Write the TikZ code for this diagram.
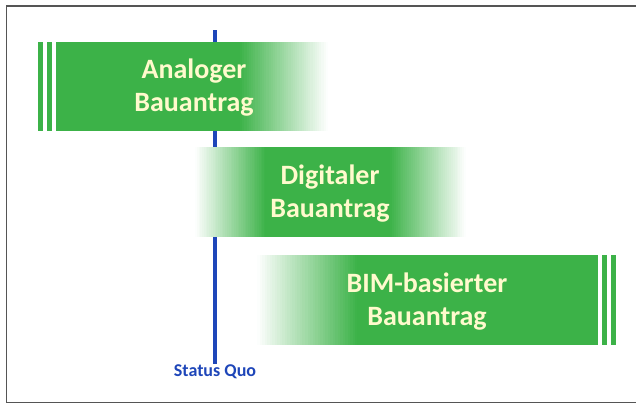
\documentclass[tikz,border=0pt]{standalone}
\usepackage{fontspec}
\setmainfont{Carlito}
\definecolor{bargreen}{RGB}{60,178,72}
\definecolor{bartext}{RGB}{255,250,205}
\definecolor{sqblue}{RGB}{30,70,185}
\definecolor{framegray}{RGB}{85,85,85}
% \fadebar{x-from}{x-to}{y-top}{y-bottom}{0=green->white, 1=white->green}
\newcommand{\fadebar}[5]{%
  \foreach \i in {0,...,39}{%
    \pgfmathsetmacro{\xa}{#1+(#2-#1)*\i/40}%
    \pgfmathsetmacro{\xb}{#1+(#2-#1)*(\i+1)/40+0.4}%
    \pgfmathsetmacro{\pc}{ifthenelse(#5==0,100*(1-(\i+0.5)/40),100*(\i+0.5)/40)}%
    \fill[bargreen!\pc!white] (\xa,#3) rectangle (\xb,#4);
  }}
\begin{document}
\begin{tikzpicture}[x=1pt,y=-1pt,
  solidbar/.style={fill=bargreen,draw=none},
  stripe/.style={fill=bargreen,draw=none},
  bartxt/.style={text=bartext,font=\fontsize{28}{33}\selectfont\bfseries,align=center},
  sqline/.style={draw=sqblue,line width=3.2pt},
  framestyle/.style={draw=framegray,line width=1.8pt}]
\useasboundingbox (0,0) rectangle (636,405);
\fill[white] (0,0) rectangle (636,405);
% frame (right side runs beyond the picture)
\draw[framestyle] (640,6) -- (6.5,6) -- (6.5,402.5) -- (640,402.5);
% status quo line
\node[text=sqblue,font=\fontsize{18}{20}\selectfont\bfseries,inner sep=1pt] (sq) at (215,372) {Status Quo};
\coordinate (sqtop) at (215,30);
\draw[sqline] (sqtop) -- (sq.north);
% bar 1
\fill[stripe] (38,42) rectangle (42.5,131);
\fill[stripe] (47,42) rectangle (52,131);
\fill[solidbar] (56,42) rectangle (241,131);
\fadebar{240}{328}{42}{131}{0}
\node[bartxt] (b1) at (194,88) {Analoger\\Bauantrag};
% bar 2
\fadebar{195}{266}{147}{237}{1}
\fill[solidbar] (265,147) rectangle (391,237);
\fadebar{390}{466}{147}{237}{0}
\node[bartxt] (b2) at (330,194) {Digitaler\\Bauantrag};
% bar 3
\fadebar{257}{358}{255}{345}{1}
\fill[solidbar] (357,255) rectangle (598,345);
\fill[stripe] (602,255) rectangle (606.5,345);
\fill[stripe] (611,255) rectangle (615.5,345);
\node[bartxt] (b3) at (427,302) {BIM-basierter\\Bauantrag};
\end{tikzpicture}
\end{document}
